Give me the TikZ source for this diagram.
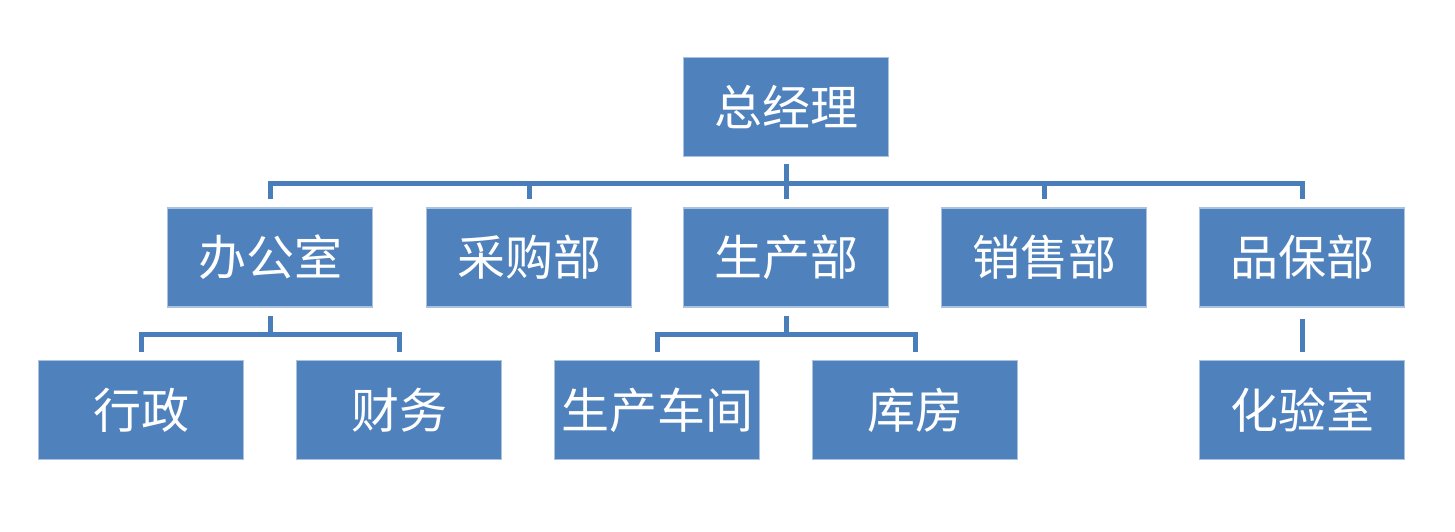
\documentclass[tikz,border=0pt]{standalone}
\usepackage{fontspec}
\newfontfamily\cjk{Noto Sans CJK SC}
\definecolor{boxfill}{HTML}{4F81BD}
\definecolor{boxedge}{HTML}{A9C2E0}
\definecolor{linec}{HTML}{4A7EBB}
\begin{document}
\begin{tikzpicture}[x=1pt,y=-1pt,
  orgbox/.style={draw=boxedge,line width=1.5pt,fill=boxfill,minimum width=205pt,minimum height=99pt,inner sep=0pt,text=white,font=\cjk\fontsize{48}{52}\selectfont},
  conn/.style={draw=linec,line width=5pt}]
\useasboundingbox (0,0) rectangle (1455,531);
\node[orgbox] (gm) at (786,107) {总经理};
\node[orgbox] (bgs) at (270,257.5) {办公室};
\node[orgbox] (cgb) at (529,257.5) {采购部};
\node[orgbox] (scb) at (786,257.5) {生产部};
\node[orgbox] (xsb) at (1044,257.5) {销售部};
\node[orgbox] (pbb) at (1302,257.5) {品保部};
\node[orgbox] (xz) at (141,410) {行政};
\node[orgbox] (cw) at (399,410) {财务};
\node[orgbox] (scj) at (657,410) {生产车间};
\node[orgbox] (kf) at (915,410) {库房};
\node[orgbox] (hys) at (1302,410) {化验室};
% level 1 -> 2
\coordinate (t0) at ([yshift=-7pt]gm.south);
\coordinate (tb) at ([yshift=8pt]scb.north);
\draw[conn] (t0) -- (tb);
\draw[conn] ([yshift=8pt]bgs.north) |- (786,183) -| ([yshift=8pt]pbb.north);
\draw[conn] (cgb.north |- 0,183) -- ([yshift=8pt]cgb.north);
\draw[conn] (xsb.north |- 0,183) -- ([yshift=8pt]xsb.north);
% level 2 -> 3
\draw[conn] ([yshift=-8pt]bgs.south) -- (bgs.south |- 0,334);
\draw[conn] ([yshift=8pt]xz.north) |- (270,334) -| ([yshift=8pt]cw.north);
\draw[conn] ([yshift=-8pt]scb.south) -- (scb.south |- 0,334);
\draw[conn] ([yshift=8pt]scj.north) |- (786,334) -| ([yshift=8pt]kf.north);
\draw[conn] ([yshift=-11pt]pbb.south) -- ([yshift=8pt]hys.north);
\end{tikzpicture}
\end{document}
